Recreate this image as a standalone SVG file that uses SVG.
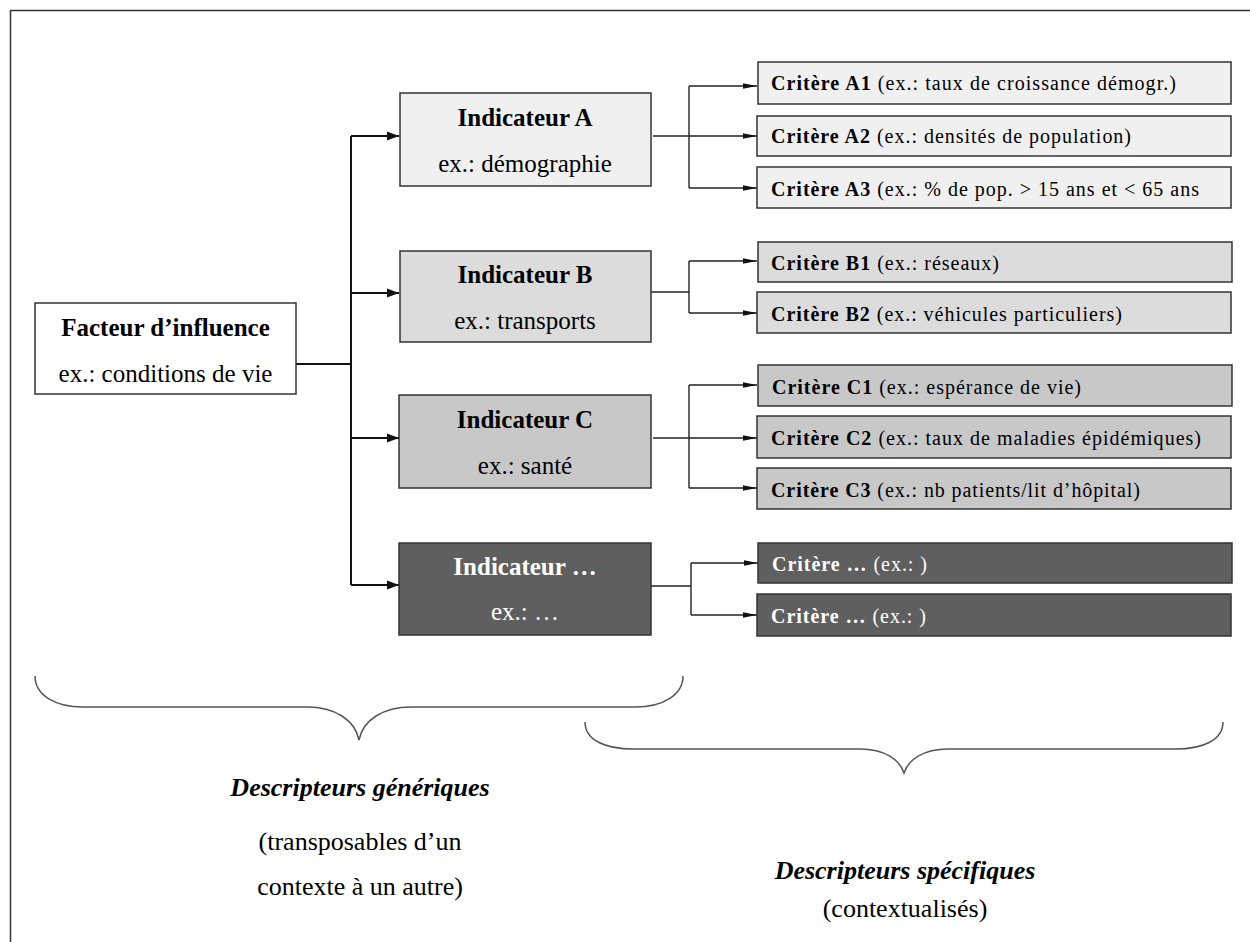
<svg xmlns="http://www.w3.org/2000/svg" width="1250" height="942" viewBox="0 0 1250 942" font-family="'Liberation Serif', 'Times New Roman', 'DejaVu Serif', serif">
<style>
  text { font-family: 'Liberation Serif', 'Times New Roman', 'DejaVu Serif', serif; fill: #000; }
  .ind { font-size: 25px; text-anchor: middle; }
  .b { font-weight: bold; }
  .crit { font-size: 20px; }
  .w { fill: #fff; }
  .box { stroke: #333; stroke-width: 1.5; }
  .l1 { fill: #f0f0f0; }
  .l2 { fill: #dcdcdc; }
  .l3 { fill: #c8c8c8; }
  .l4 { fill: #5f5f5f; }
  .trunk { stroke: #111; stroke-width: 2; fill: none; }
  .conn { stroke: #222; stroke-width: 1.4; fill: none; }
  .brace { stroke: #555; stroke-width: 1.5; fill: none; }
  .big { font-size: 26px; text-anchor: middle; }
</style>
<defs>
  <marker id="ah" markerUnits="userSpaceOnUse" markerWidth="13" markerHeight="11" refX="12" refY="5.5" orient="auto">
    <path d="M0,1 L12,5.5 L0,10 Z" fill="#111"/>
  </marker>
  <marker id="ah2" markerUnits="userSpaceOnUse" markerWidth="15" markerHeight="8" refX="14" refY="4" orient="auto">
    <path d="M0,1.2 L14,4 L0,6.8 Z" fill="#111"/>
  </marker>
</defs>
<rect x="0" y="0" width="1250" height="942" fill="#fff"/>
<path d="M10.5,942 L10.5,10.5 L1250,10.5" fill="none" stroke="#333" stroke-width="1.5"/>

<g id="connectors">
  <path class="trunk" d="M296,364 L351,364"/>
  <path class="trunk" d="M351,136 L351,585"/>
  <path class="trunk" d="M351,136 L399,136" marker-end="url(#ah)"/>
  <path class="trunk" d="M351,293 L399,293" marker-end="url(#ah)"/>
  <path class="trunk" d="M351,438 L399,438" marker-end="url(#ah)"/>
  <path class="trunk" d="M351,585 L399,585" marker-end="url(#ah)"/>

  <path class="conn" d="M653,136 L689,136"/>
  <path class="conn" d="M689,86 L689,188"/>
  <path class="conn" d="M689,86 L757,86" marker-end="url(#ah2)"/>
  <path class="conn" d="M689,136 L757,136" marker-end="url(#ah2)"/>
  <path class="conn" d="M689,188 L757,188" marker-end="url(#ah2)"/>

  <path class="conn" d="M651,292 L689,292"/>
  <path class="conn" d="M689,261 L689,313"/>
  <path class="conn" d="M689,261 L757,261" marker-end="url(#ah2)"/>
  <path class="conn" d="M689,313 L757,313" marker-end="url(#ah2)"/>

  <path class="conn" d="M653,438 L689,438"/>
  <path class="conn" d="M689,385 L689,488"/>
  <path class="conn" d="M689,385 L757,385" marker-end="url(#ah2)"/>
  <path class="conn" d="M689,438 L757,438" marker-end="url(#ah2)"/>
  <path class="conn" d="M689,488 L757,488" marker-end="url(#ah2)"/>

  <path class="conn" d="M651,586 L691,586"/>
  <path class="conn" d="M691,563 L691,615"/>
  <path class="conn" d="M691,563 L758,563" marker-end="url(#ah2)"/>
  <path class="conn" d="M691,615 L757,615" marker-end="url(#ah2)"/>
</g>

<g id="facteur">
  <rect class="box" x="35" y="303" width="261" height="91" fill="#fff"/>
  <text class="ind b" x="165.5" y="336">Facteur d’influence</text>
  <text class="ind" x="165.5" y="382">ex.: conditions de vie</text>
</g>

<g id="indicateurA">
  <rect class="box l1" x="400" y="93" width="251" height="93"/>
  <text class="ind b" x="525" y="126">Indicateur A</text>
  <text class="ind" x="525" y="172">ex.: démographie</text>
</g>
<g id="indicateurB">
  <rect class="box l2" x="400" y="251" width="251" height="91"/>
  <text class="ind b" x="525" y="283">Indicateur B</text>
  <text class="ind" x="525" y="329">ex.: transports</text>
</g>
<g id="indicateurC">
  <rect class="box l3" x="399" y="395" width="252" height="93"/>
  <text class="ind b" x="525" y="428">Indicateur C</text>
  <text class="ind" x="525" y="474">ex.: santé</text>
</g>
<g id="indicateurD">
  <rect class="box l4" x="399" y="543" width="252" height="92"/>
  <text class="ind b w" x="525" y="575">Indicateur …</text>
  <text class="ind w" x="525" y="620">ex.: …</text>
</g>

<g id="critereA1">
  <rect class="box l1" x="758" y="62" width="473" height="42"/>
  <text class="crit" x="771" y="90" textLength="405" lengthAdjust="spacing"><tspan class="b">Critère A1</tspan> (ex.: taux de croissance démogr.)</text>
</g>
<g id="critereA2">
  <rect class="box l1" x="757" y="116" width="474" height="40"/>
  <text class="crit" x="771" y="143" textLength="360" lengthAdjust="spacing"><tspan class="b">Critère A2</tspan> (ex.: densités de population)</text>
</g>
<g id="critereA3">
  <rect class="box l1" x="757" y="167" width="474" height="41"/>
  <text class="crit" x="771" y="196" textLength="428" lengthAdjust="spacing"><tspan class="b">Critère A3</tspan> (ex.: % de pop. &gt; 15 ans et &lt; 65 ans</text>
</g>
<g id="critereB1">
  <rect class="box l2" x="758" y="242" width="474" height="40"/>
  <text class="crit" x="771" y="270" textLength="228" lengthAdjust="spacing"><tspan class="b">Critère B1</tspan> (ex.: réseaux)</text>
</g>
<g id="critereB2">
  <rect class="box l2" x="757" y="292" width="474" height="41"/>
  <text class="crit" x="771" y="321" textLength="351" lengthAdjust="spacing"><tspan class="b">Critère B2</tspan> (ex.: véhicules particuliers)</text>
</g>
<g id="critereC1">
  <rect class="box l3" x="758" y="365" width="474" height="41"/>
  <text class="crit" x="772" y="394" textLength="309" lengthAdjust="spacing"><tspan class="b">Critère C1</tspan> (ex.: espérance de vie)</text>
</g>
<g id="critereC2">
  <rect class="box l3" x="757" y="416" width="474" height="42"/>
  <text class="crit" x="771" y="445" textLength="430" lengthAdjust="spacing"><tspan class="b">Critère C2</tspan> (ex.: taux de maladies épidémiques)</text>
</g>
<g id="critereC3">
  <rect class="box l3" x="757" y="468" width="474" height="41"/>
  <text class="crit" x="771" y="497" textLength="369" lengthAdjust="spacing"><tspan class="b">Critère C3</tspan> (ex.: nb patients/lit d’hôpital)</text>
</g>
<g id="critereD1">
  <rect class="box l4" x="758" y="543" width="474" height="40"/>
  <text class="crit w" x="772" y="571" textLength="155" lengthAdjust="spacing"><tspan class="b">Critère …</tspan> (ex.: )</text>
</g>
<g id="critereD2">
  <rect class="box l4" x="757" y="594" width="474" height="42"/>
  <text class="crit w" x="771" y="623" textLength="155" lengthAdjust="spacing"><tspan class="b">Critère …</tspan> (ex.: )</text>
</g>

<g id="brace-generiques">
  <path class="brace" d="M35,676 C35,695 55,707 83,707 L307,707 C335,707 355,720 359,740 C363,720 383,707 411,707 L635,707 C663,707 683,695 683,676"/>
  <text class="big b" x="360" y="796" font-style="italic">Descripteurs génériques</text>
  <text class="big" x="360" y="850">(transposables d’un</text>
  <text class="big" x="360" y="895">contexte à un autre)</text>
</g>
<g id="brace-specifiques">
  <path class="brace" d="M585,722 C585,740 605,749 633,749 L860,749 C885,749 900,760 904,773 C908,760 923,749 948,749 L1176,749 C1203,749 1223,740 1223,722"/>
  <text class="big b" x="905" y="879" font-style="italic">Descripteurs spécifiques</text>
  <text class="big" x="905" y="917">(contextualisés)</text>
</g>
</svg>
